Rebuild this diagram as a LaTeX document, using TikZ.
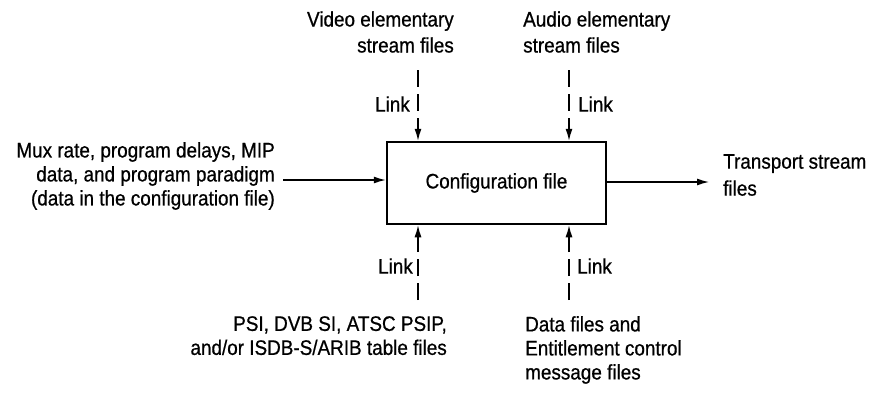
\documentclass[tikz,border=0pt]{standalone}
\usepackage{fontspec}
\setmainfont{Liberation Sans}[FakeStretch=0.9,FakeBold=0.7]
\usetikzlibrary{arrows.meta}
\begin{document}
\begin{tikzpicture}[x=1pt,y=-1pt,
  every node/.style={font=\fontsize{21}{24}\selectfont,inner sep=0pt},
  wide/.style={font=\fontsize{21}{26}\selectfont},
  conn/.style={line width=1.3pt,-{Latex[length=12pt,width=7pt]}},
  dconn/.style={conn,dash pattern=on 17pt off 7pt},
  box/.style={draw,line width=2.5pt,minimum width=219pt,minimum height=82pt}]
\useasboundingbox (0,0) rectangle (874,394);
\node[box] (cfg) at (496.5,183) {Configuration file};
% top and bottom inputs
\coordinate (vt) at (418,70);
\coordinate (at) at (569,70);
\coordinate (vb) at (418,300);
\coordinate (ab) at (569,300);
\draw[dconn] (vt) -- (vt |- cfg.north);
\draw[dconn] (at) -- (at |- cfg.north);
\draw[dconn] (vb) -- (vb |- cfg.south);
\draw[dconn] (ab) -- (ab |- cfg.south);
\node[wide,anchor=east,align=right] (vtxt) at (454,32) {Video elementary\\stream files};
\node[wide,anchor=west,align=left] (atxt) at (523,32) {Audio elementary\\stream files};
\node[anchor=east] (l1) at (410,104) {Link};
\node[anchor=west] (l2) at (578,104) {Link};
\node[anchor=east] (l3) at (413,266) {Link};
\node[anchor=west] (l4) at (577,266) {Link};
\node[anchor=north east,align=right] (ptxt) at (447,316) {PSI, DVB SI, ATSC PSIP,\\and/or ISDB-S/ARIB table files};
\node[anchor=north west,align=left] (dtxt) at (525,316) {Data files and\\Entitlement control\\message files};
% left input
\node[anchor=east,align=right] (mtxt) at (275,176) {Mux rate, program delays, MIP\\data, and program paradigm\\(data in the configuration file)};
\coordinate (ml) at (283,180);
\draw[conn] (ml) -- (ml -| cfg.west);
% output
\coordinate (to) at (709,182);
\draw[conn] (cfg.east |- to) -- (to);
\node[anchor=west,align=left,font=\fontsize{21}{27}\selectfont] (ttxt) at (723,175) {Transport stream\\files};
\end{tikzpicture}
\end{document}
